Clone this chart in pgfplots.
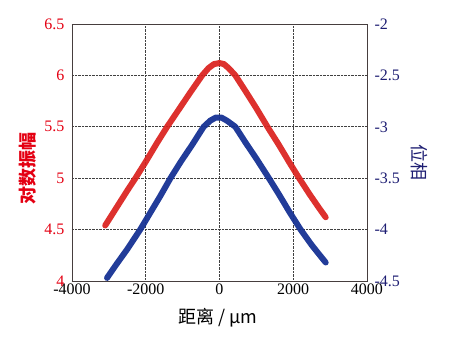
\documentclass[border=0pt]{standalone}
\usepackage{pgfplots}
\pgfplotsset{compat=1.18}
\usepackage{fontspec}
\setmainfont{Liberation Serif}
\newfontfamily\cjk{Noto Sans CJK SC}
\definecolor{lred}{RGB}{228,0,18}
\definecolor{lblue}{RGB}{30,30,115}
\definecolor{sred}{RGB}{218,32,28}
\definecolor{sblue}{RGB}{22,50,148}
\definecolor{axgray}{RGB}{70,62,62}
\begin{document}
\begin{tikzpicture}
\useasboundingbox (-72pt,-59pt) rectangle (378pt,281pt);
\begin{axis}[
  at={(0,0)}, anchor=south west,
  scale only axis, width=295pt, height=257pt,
  xmin=-4000, xmax=4000, ymin=4, ymax=6.5,
  xtick={-4000,-2000,0,2000,4000},
  ytick={4,4.5,5,5.5,6,6.5},
  yticklabels={4,4.5,5,5.5,6,6.5},
  axis y line*=left, axis x line*=bottom,
  axis line style={axgray, line width=0.8pt},
  major tick length=0pt,
  grid=major,
  major grid style={densely dotted, black!75, line width=0.6pt},
  /pgf/number format/assume math mode=true,
  /pgf/number format/1000 sep={},
  ticklabel style={font=\fontsize{16}{18}\selectfont},
  yticklabel style={text=lred, xshift=-4pt},
  xticklabel style={text=black, yshift=1pt},
  ylabel={\cjk 对数振幅},
  ylabel style={font=\fontsize{18}{20}\selectfont\bfseries, text=lred, at={(rel axis cs:-0.149,0.436)}, anchor=center, rotate=0},
  xlabel={\cjk 距离 / \textit{μ}m},
  xlabel style={font=\fontsize{18}{20}\selectfont, at={(rel axis cs:0.495,-0.142)}, anchor=center},
]
\addplot[sred, line width=6pt, line join=round, line cap=round, opacity=0.92] coordinates {
(-3100,4.54) (-2800,4.71) (-2500,4.88) (-2280,5.00) (-2000,5.16) (-1700,5.34)
(-1420,5.50) (-1100,5.67) (-800,5.83) (-470,6.00) (-300,6.07) (-150,6.11)
(0,6.12) (120,6.11) (250,6.07) (430,6.00) (700,5.85) (1000,5.68) (1300,5.50)
(1600,5.33) (1900,5.15) (2160,5.00) (2450,4.84) (2700,4.71) (2880,4.62)
};
\draw[axgray, line width=0.8pt] (rel axis cs:0,1) -- (rel axis cs:1,1);
\end{axis}
\begin{axis}[
  at={(0,0)}, anchor=south west,
  scale only axis, width=295pt, height=257pt,
  xmin=-4000, xmax=4000, ymin=-4.5, ymax=-2,
  axis x line=none, axis y line*=right,
  axis line style={axgray, line width=0.8pt},
  ytick={-4.5,-4,-3.5,-3,-2.5,-2},
  yticklabels={-4.5,-4,-3.5,-3,-2.5,-2},
  major tick length=0pt,
  ticklabel style={font=\fontsize{16}{18}\selectfont},
  yticklabel style={text=lblue, xshift=4pt},
  ylabel={\cjk 位相},
  ylabel style={font=\fontsize{18}{20}\selectfont, text=lblue, at={(rel axis cs:1.176,0.46)}, anchor=center, rotate=180},
]
\addplot[sblue, line width=6pt, line join=round, line cap=round, opacity=0.95] coordinates {
(-3050,-4.47) (-2800,-4.34) (-2500,-4.19) (-2150,-4.00) (-1900,-3.85) (-1600,-3.67)
(-1330,-3.50) (-1050,-3.34) (-750,-3.18) (-430,-3.00) (-250,-2.94) (-100,-2.91)
(50,-2.91) (200,-2.94) (430,-3.00) (700,-3.15) (1000,-3.31) (1340,-3.50)
(1600,-3.65) (1900,-3.83) (2200,-4.00) (2500,-4.15) (2700,-4.24) (2880,-4.32)
};
\end{axis}
\end{tikzpicture}
\end{document}
